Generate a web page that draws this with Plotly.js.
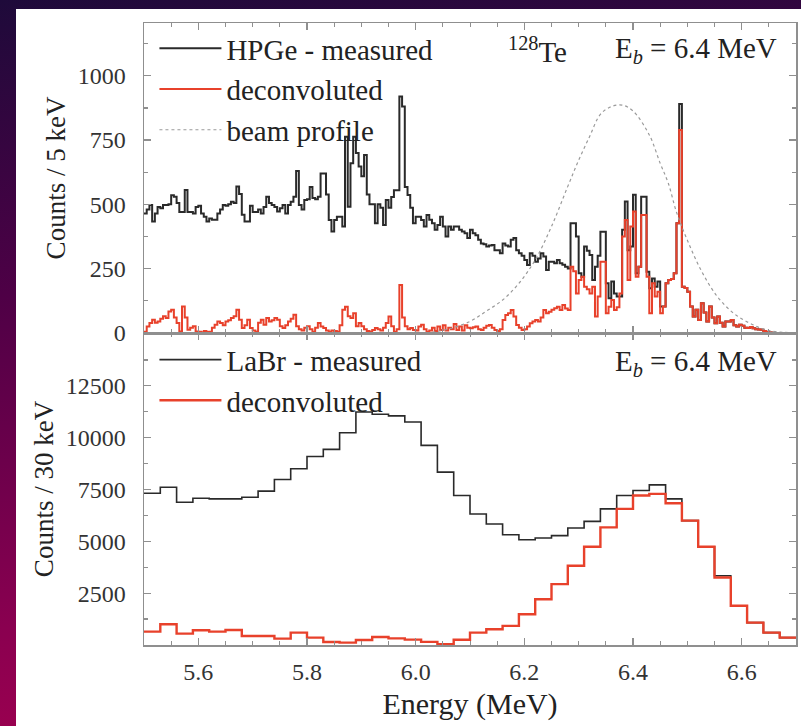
<!DOCTYPE html>
<html>
<head>
<meta charset="utf-8">
<script src="https://cdn.plot.ly/plotly-3.0.1.min.js"></script>
<style>
  html, body { margin:0; padding:0; width:801px; height:726px; overflow:hidden;
    background: linear-gradient(172deg, #1e0a3a 0%, #4e0046 35%, #8a0050 75%, #a8004f 100%); }
  #chart { position:absolute; left:16px; top:9px; width:785px; height:717px; background:#fff; }
</style>
</head>
<body>
<div id="chart"></div>
<script>
// ---- HPGe spectrum, 5 keV bins starting at 5.5 MeV ----
const hpgeStart = 5.5;
const hpgeBin = 0.005;
const hpgeMeasured = [
 465,480,498,433,465,490,485,498,498,500,
 535,530,505,470,470,556,470,470,465,490,
 495,465,452,433,445,440,440,465,480,498,
 495,500,510,505,569,540,460,433,433,495,
 470,470,480,465,490,530,505,498,490,472,
 485,498,465,498,510,530,630,498,480,517,
 520,568,525,520,530,620,620,538,439,395,
 439,452,452,414,763,491,660,763,700,647,
 609,692,538,500,500,427,500,487,420,517,
 487,529,555,555,919,880,568,536,487,427,
 452,452,439,414,459,440,427,401,420,452,
 414,375,414,401,414,414,401,395,388,369,
 401,388,380,362,348,345,336,340,342,322,
 322,310,348,340,336,362,369,322,310,300,
 284,264,310,300,277,290,310,297,245,277,
 277,271,284,271,265,258,251,427,427,375,
 232,219,336,320,303,206,258,300,394,394,
 193,135,200,154,142,142,401,511,322,336,
 537,232,258,530,530,238,174,212,180,200,
 103,103,193,206,210,232,427,890,180,175,
 160,103,64,90,51,116,80,45,103,60,
 38,64,40,25,45,45,51,30,25,32,
 28,20,19,23,18,15,14,13,8,4,
 2,1,0,0,0,0,0,0,0,0
];
const hpgeDeconvoluted = [
 5,25,39,52,40,45,55,65,58,84,
 90,60,39,6,103,60,13,20,26,6,
 5,3,8,4,5,20,32,45,39,30,
 45,50,58,65,90,52,19,30,52,19,
 10,5,40,52,32,58,45,50,58,52,
 26,19,30,45,55,71,26,15,10,20,
 26,15,5,20,39,25,19,10,5,10,
 8,5,30,90,102,65,58,77,26,39,
 26,15,8,5,12,19,15,10,20,39,
 64,26,5,15,187,60,26,15,19,12,
 10,25,32,15,5,10,20,8,25,12,
 30,10,20,15,35,12,25,10,30,20,
 18,22,25,15,12,20,28,31,20,12,
 8,15,51,70,77,89,64,31,20,12,
 15,25,38,45,51,45,60,89,77,83,
 90,96,102,89,109,95,89,258,240,154,
 206,219,180,170,154,180,64,142,277,277,
 77,102,128,89,100,154,375,439,206,414,
 472,219,258,459,459,219,77,193,142,160,
 77,103,193,206,210,232,427,789,180,175,
 160,103,64,90,51,116,80,45,103,60,
 38,64,40,25,45,45,51,30,25,32,
 28,20,19,23,18,15,14,13,8,4,
 2,1,0,0,0,0,0,0,0,0
];
// ---- beam profile (dotted) ----
const beamEnergy = [6.03,6.06,6.10,6.13,6.16,6.19,6.22,6.25,6.28,6.30,6.32,6.34,6.36,6.38,6.40,6.43,6.45,6.465,6.48,6.50,6.525,6.555,6.585,6.615,6.645,6.675,6.70];
const beamCounts = [3,15,45,85,128,193,284,414,570,672,763,850,880,886,863,770,660,582,470,361,245,142,77,38,12,3,1];

// ---- LaBr spectrum, 30 keV bins starting at 5.5 MeV ----
const labrStart = 5.5;
const labrBin = 0.03;
const labrMeasured = [7320,7610,6885,7080,7050,7050,7130,7420,7980,8500,9095,9435,10240,11240,11130,11050,10755,9630,8340,7210,6320,5840,5320,5080,5160,5275,5645,5965,6565,7210,7450,7725,7050,6000,4740,3340,1890,1080,595,355];
const labrDeconvoluted = [645,1000,550,710,645,725,435,435,305,595,355,145,115,240,385,320,260,150,40,250,595,760,920,1485,2210,2935,3820,4740,5675,6565,7210,7290,6835,6000,4740,3255,1890,1080,595,355];

// tick labels
const xTickVals = [5.6,5.8,6.0,6.2,6.4,6.6];
const xTickText = ['5.6','5.8','6.0','6.2','6.4','6.6'];
const topTickVals = [0,250,500,750,1000];
const topTickText = ['0','250','500','750','1000'];
const botTickVals = [2500,5000,7500,10000,12500];
const botTickText = ['2500','5000','7500','10000','12500'];

function stepXY(start, width, vals){
  const x = [], y = [];
  for (let i=0;i<vals.length;i++){ x.push(+(start+i*width).toFixed(4)); y.push(vals[i]); }
  x.push(+(start+vals.length*width).toFixed(4)); y.push(vals[vals.length-1]);
  return {x, y};
}

const hm = stepXY(hpgeStart, hpgeBin, hpgeMeasured);
const hd = stepXY(hpgeStart, hpgeBin, hpgeDeconvoluted);
const lm = stepXY(labrStart, labrBin, labrMeasured);
const ld = stepXY(labrStart, labrBin, labrDeconvoluted);

const BLACK = '#2a2a2a', RED = '#e8412b', FRAME = '#8f8f8f';
const FONT = 'Liberation Serif';

const traces = [
  {x:hm.x, y:hm.y, type:'scatter', mode:'lines', line:{shape:'hv', color:BLACK, width:2}, name:'HPGe - measured', xaxis:'x', yaxis:'y', legend:'legend'},
  {x:hd.x, y:hd.y, type:'scatter', mode:'lines', line:{shape:'hv', color:RED, width:2}, name:'deconvoluted', xaxis:'x', yaxis:'y', legend:'legend'},
  {x:beamEnergy, y:beamCounts, type:'scatter', mode:'lines', line:{shape:'spline', color:'#9a9a9a', width:1.2, dash:'dot'}, name:'beam profile', xaxis:'x', yaxis:'y', legend:'legend'},
  {x:lm.x, y:lm.y, type:'scatter', mode:'lines', line:{shape:'hv', color:BLACK, width:1.6}, name:'LaBr - measured', xaxis:'x2', yaxis:'y2', legend:'legend2'},
  {x:ld.x, y:ld.y, type:'scatter', mode:'lines', line:{shape:'hv', color:RED, width:2.4}, name:'deconvoluted', xaxis:'x2', yaxis:'y2', legend:'legend2'}
];

const split = 0.5016;
const commonX = {
  range:[5.5,6.7], showline:true, linecolor:FRAME, linewidth:1.5, mirror:'allticks',
  ticks:'inside', ticklen:7, tickwidth:1.2, tickcolor:FRAME,
  tickvals:xTickVals, ticktext:xTickText, showgrid:false, zeroline:false,
  minor:{dtick:0.05, ticks:'inside', ticklen:4, tickcolor:FRAME, tickwidth:1, showgrid:false},
  tickfont:{family:FONT, size:24, color:'#333'}, ticklabelstandoff:5
};
const commonY = {
  showline:true, linecolor:FRAME, linewidth:1.5, mirror:'allticks',
  ticks:'inside', ticklen:7, tickwidth:1.2, tickcolor:FRAME, showgrid:false, zeroline:false,
  tickfont:{family:FONT, size:24, color:'#333'}, ticklabelstandoff:12
};

const layout = {
  width:785, height:717,
  margin:{l:128, r:5, t:14, b:81},
  paper_bgcolor:'#ffffff', plot_bgcolor:'#ffffff',
  font:{family:FONT, color:'#222'},
  showlegend:true,
  xaxis: Object.assign({}, commonX, {anchor:'y', showticklabels:false}),
  xaxis2: Object.assign({}, commonX, {anchor:'y2', matches:'x',
     title:{text:'Energy (MeV)', font:{family:FONT, size:30, color:'#222'}, standoff:8}}),
  yaxis: Object.assign({}, commonY, {domain:[split,1], range:[0,1205], tickvals:topTickVals, ticktext:topTickText,
     minor:{dtick:125, ticks:'inside', ticklen:4, tickcolor:FRAME, showgrid:false},
     title:{text:'Counts / 5 keV', font:{family:FONT, size:27, color:'#222'}, standoff:4}}),
  yaxis2: Object.assign({}, commonY, {domain:[0,split], range:[0,15050], tickvals:botTickVals, ticktext:botTickText,
     minor:{dtick:1250, ticks:'inside', ticklen:4, tickcolor:FRAME, showgrid:false},
     title:{text:'Counts / 30 keV', font:{family:FONT, size:27, color:'#222'}, standoff:4}}),
  legend:{x:0.016, y:1.0, xanchor:'left', yanchor:'top', bgcolor:'rgba(0,0,0,0)',
     font:{family:FONT, size:29, color:'#222'}, tracegroupgap:0, itemwidth:62},
  legend2:{x:0.016, y:split-0.002, xanchor:'left', yanchor:'top', bgcolor:'rgba(0,0,0,0)',
     font:{family:FONT, size:29, color:'#222'}, tracegroupgap:0, itemwidth:62},
  annotations:[
    {xref:'paper', yref:'paper', x:0.603, y:0.9566, xanchor:'center', yanchor:'middle', showarrow:false,
     text:'<sup>128</sup>Te', font:{family:FONT, size:29, color:'#222'}},
    {xref:'paper', yref:'paper', x:0.974, y:0.9566, xanchor:'right', yanchor:'middle', showarrow:false,
     text:'E<sub><i>b</i></sub> = 6.4 MeV', font:{family:FONT, size:29, color:'#222'}},
    {xref:'paper', yref:'paper', x:0.974, y:0.4534, xanchor:'right', yanchor:'middle', showarrow:false,
     text:'E<sub><i>b</i></sub> = 6.4 MeV', font:{family:FONT, size:29, color:'#222'}}
  ]
};

Plotly.newPlot('chart', traces, layout, {displayModeBar:false, staticPlot:true});
</script>
</body>
</html>
